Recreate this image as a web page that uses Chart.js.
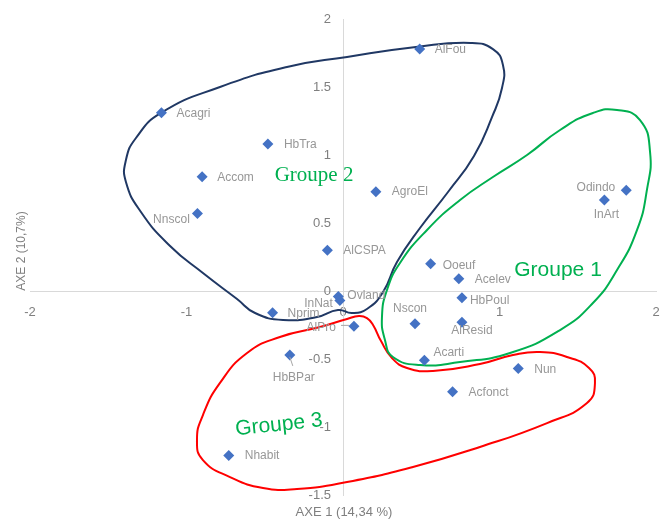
<!DOCTYPE html>
<html>
<head>
<meta charset="utf-8">
<script src="https://cdn.jsdelivr.net/npm/chart.js@4/dist/chart.umd.min.js"></script>
<style>
  html, body { margin: 0; padding: 0; background: #ffffff; }
  canvas { display: block; }
</style>
</head>
<body>
<canvas id="acp" width="667" height="520"></canvas>
<script>
// Variables projected on the first factorial plane (AXE 1 x AXE 2)
const variables = ['AlFou', 'Acagri', 'HbTra', 'Accom', 'Nnscol', 'AgroEl', 'AlCSPA', 'Odindo', 'InArt',
  'Ooeuf', 'Acelev', 'HbPoul', 'Nscon', 'AlResid', 'Acarti', 'Nun', 'Acfonct', 'Ovland', 'InNat',
  'Nprim', 'AlPro', 'HbBPar', 'Nhabit'];
const axe1 = [0.49, -1.16, -0.48, -0.90, -0.93, 0.21, -0.10, 1.81, 1.67,
  0.56, 0.74, 0.76, 0.46, 0.76, 0.52, 1.12, 0.70, -0.03, -0.02,
  -0.45, 0.07, -0.34, -0.73];
const axe2 = [1.78, 1.31, 1.08, 0.84, 0.57, 0.73, 0.30, 0.74, 0.67,
  0.20, 0.09, -0.05, -0.24, -0.23, -0.51, -0.57, -0.74, -0.04, -0.07,
  -0.16, -0.26, -0.47, -1.21];

// Tick values of both axes
const xTicks = [-2, -1, 0, 1, 2];
const yTicks = [2, 1.5, 1, 0.5, 0, -0.5, -1, -1.5];

// Hand-drawn group contours (closed loops), in plane coordinates
const groupe1 = [[0.748, 0.669], [0.958, 0.838], [1.176, 1.0], [1.387, 1.184], [1.597, 1.309], [1.751, 1.331],
  [1.898, 1.257], [1.962, 1.022], [1.942, 0.743], [1.879, 0.449], [1.751, 0.154], [1.597, -0.088],
  [1.387, -0.287], [1.067, -0.456], [0.748, -0.522], [0.492, -0.544], [0.319, -0.485], [0.268, -0.360],
  [0.249, -0.191], [0.281, 0.007], [0.364, 0.206], [0.537, 0.449]];
const groupe2 = [[-0.358, 1.647], [0.026, 1.721], [0.466, 1.794], [0.815, 1.824], [0.958, 1.779], [1.022, 1.662],
  [1.016, 1.493], [0.952, 1.279], [0.837, 0.993], [0.671, 0.728], [0.492, 0.463], [0.345, 0.213],
  [0.256, -0.007], [0.153, -0.132], [0.058, -0.162], [-0.032, -0.140], [-0.166, -0.191], [-0.383, -0.213],
  [-0.562, -0.162], [-0.677, -0.059], [-0.895, 0.132], [-1.105, 0.331], [-1.291, 0.581], [-1.387, 0.801],
  [-1.387, 0.963], [-1.323, 1.125], [-1.163, 1.309], [-0.786, 1.5]];
const groupe3 = [[0.447, -1.294], [0.875, -1.147], [1.304, -0.971], [1.559, -0.824], [1.610, -0.676],
  [1.572, -0.566], [1.431, -0.485], [1.259, -0.449], [1.086, -0.471], [0.875, -0.537], [0.575, -0.588],
  [0.409, -0.566], [0.313, -0.493], [0.243, -0.368], [0.192, -0.250], [0.153, -0.199], [0.102, -0.184],
  [0.026, -0.206], [-0.147, -0.265], [-0.403, -0.338], [-0.613, -0.456], [-0.786, -0.676], [-0.895, -0.912],
  [-0.933, -1.096], [-0.895, -1.243], [-0.722, -1.368], [-0.511, -1.449], [-0.294, -1.456], [0.026, -1.404]];

// Group captions and where they sit in the plane
const groupNames = ['Groupe 1', 'Groupe 2', 'Groupe 3'];
const groupCaptionAt = [[1.374, 0.154], [-0.185, 0.853], [-0.409, -0.985]];

// Label placement around each marker (pixel offsets from the marker centre)
const labelPlacement = {
  AlFou:   { align: 'left',   dx: 15,  dy: 1 },
  Acagri:  { align: 'left',   dx: 15,  dy: 1 },
  HbTra:   { align: 'left',   dx: 16,  dy: 1 },
  Accom:   { align: 'left',   dx: 15,  dy: 1 },
  Nnscol:  { align: 'center', dx: -26, dy: 6 },
  AgroEl:  { align: 'left',   dx: 16,  dy: 0 },
  AlCSPA:  { align: 'left',   dx: 16,  dy: 0 },
  Odindo:  { align: 'right',  dx: -11, dy: -3 },
  InArt:   { align: 'center', dx: 2,   dy: 15 },
  Ooeuf:   { align: 'left',   dx: 12,  dy: 2 },
  Acelev:  { align: 'left',   dx: 16,  dy: 1 },
  HbPoul:  { align: 'left',   dx: 8,   dy: 3 },
  Nscon:   { align: 'center', dx: -5,  dy: -15 },
  AlResid: { align: 'center', dx: 10,  dy: 8 },
  Acarti:  { align: 'left',   dx: 9,   dy: -8 },
  Nun:     { align: 'left',   dx: 16,  dy: 1 },
  Acfonct: { align: 'left',   dx: 16,  dy: 1 },
  Ovland:  { align: 'left',   dx: 9,   dy: -1 },
  InNat:   { align: 'right',  dx: -7,  dy: 3 },
  Nprim:   { align: 'left',   dx: 15,  dy: 1 },
  AlPro:   { align: 'right',  dx: -18, dy: 1, leader: [-13, -1, -5, -1] },
  HbBPar:  { align: 'center', dx: 4,   dy: 23, leader: [0, 2, 3, 11] },
  Nhabit:  { align: 'left',   dx: 16,  dy: 0 }
};

const FONT = '"Liberation Sans", Arial, sans-serif';
const GREEN = '#00B050';
const AXIS_TEXT = '#7f7f7f';

// A closed loop drawn as a smooth line: the list is padded with its
// neighbours on both ends so the join is as smooth as the rest, and the
// two padding segments are left invisible.
const contour = (pts, color) => {
  const m = pts.length;
  const ring = [pts[m - 1]].concat(pts, [pts[0], pts[1]]);
  const last = ring.length - 2;
  return {
    data: ring.map(p => ({ x: p[0], y: p[1] })),
    showLine: true,
    borderColor: color,
    borderWidth: 2,
    tension: 0.5,
    pointRadius: 0,
    pointHoverRadius: 0,
    fill: false,
    order: 2,
    segment: {
      borderColor: c => (c.p0DataIndex === 0 || c.p0DataIndex === last) ? 'rgba(0,0,0,0)' : color
    }
  };
};

// Vertical-axis tick labels, set a little to the left of the axis line
const yTickLabels = {
  id: 'yTickLabels',
  beforeDatasetsDraw(chart) {
    const ctx = chart.ctx;
    const sx = chart.scales.x, sy = chart.scales.y;
    const x0 = sx.getPixelForValue(0);
    ctx.save();
    ctx.font = '13px ' + FONT;
    ctx.fillStyle = AXIS_TEXT;
    ctx.textAlign = 'right';
    ctx.textBaseline = 'middle';
    yTicks.forEach(v => ctx.fillText(String(v), x0 - 12, sy.getPixelForValue(v)));
    ctx.restore();
  }
};

// Names next to each marker
const pointLabels = {
  id: 'pointLabels',
  afterDatasetsDraw(chart) {
    const meta = chart.getDatasetMeta(3);
    const ctx = chart.ctx;
    ctx.save();
    ctx.font = '12px ' + FONT;
    ctx.fillStyle = '#979797';
    ctx.strokeStyle = '#a6a6a6';
    ctx.lineWidth = 1;
    ctx.textBaseline = 'middle';
    meta.data.forEach((pt, i) => {
      const p = labelPlacement[variables[i]];
      ctx.textAlign = p.align;
      ctx.fillText(variables[i], pt.x + p.dx, pt.y + p.dy);
      if (p.leader) {
        const l = p.leader;
        ctx.beginPath();
        ctx.moveTo(pt.x + l[0], pt.y + l[1]);
        ctx.lineTo(pt.x + l[2], pt.y + l[3]);
        ctx.stroke();
      }
    });
    ctx.restore();
  }
};

// Axis titles and group captions
const captions = {
  id: 'captions',
  afterDraw(chart) {
    const ctx = chart.ctx;
    const sx = chart.scales.x, sy = chart.scales.y;
    const area = chart.chartArea;
    ctx.save();
    ctx.fillStyle = AXIS_TEXT;
    ctx.textAlign = 'center';
    ctx.textBaseline = 'middle';
    ctx.font = '13px ' + FONT;
    ctx.fillText('AXE 1 (14,34 %)', sx.getPixelForValue(0) + 1, chart.height - 8);
    ctx.save();
    ctx.translate(22, (area.top + area.bottom) / 2 - 6);
    ctx.rotate(-Math.PI / 2);
    ctx.font = '12px ' + FONT;
    ctx.fillText('AXE 2 (10,7%)', 0, 0);
    ctx.restore();

    ctx.fillStyle = GREEN;
    const fonts = ['21px ' + FONT, '21px "Liberation Serif", "Times New Roman", serif', '21px ' + FONT];
    const angles = [0, 0, -6 * Math.PI / 180];
    groupNames.forEach((name, i) => {
      const px = sx.getPixelForValue(groupCaptionAt[i][0]);
      const py = sy.getPixelForValue(groupCaptionAt[i][1]);
      ctx.save();
      ctx.translate(px, py);
      ctx.rotate(angles[i]);
      ctx.font = fonts[i];
      ctx.fillText(name, 0, 0);
      ctx.restore();
    });
    ctx.restore();
  }
};

// Axes cross at the origin; only their lines are shown (no grid, no tick marks)
const axisCommon = {
  type: 'linear',
  grid: { display: false, drawTicks: true, tickLength: 9 },
  border: { display: true, color: '#d9d9d9', width: 1 },
  title: { display: false }
};

new Chart(document.getElementById('acp'), {
  type: 'scatter',
  data: {
    datasets: [
      contour(groupe1, GREEN),
      contour(groupe2, '#203864'),
      contour(groupe3, '#FF0000'),
      {
        data: axe1.map((x, i) => ({ x: x, y: axe2[i] })),
        pointStyle: 'rectRot',
        pointRadius: 5.5,
        pointHoverRadius: 5.5,
        backgroundColor: '#4472C4',
        borderColor: '#4472C4',
        borderWidth: 0,
        showLine: false,
        order: 1
      }
    ]
  },
  options: {
    responsive: false,
    animation: false,
    layout: { padding: { left: 30, right: 11, top: 19, bottom: 25 } },
    plugins: { legend: { display: false }, tooltip: { enabled: false } },
    scales: {
      x: Object.assign({}, axisCommon, {
        min: -2, max: 2,
        position: { y: 0 },
        afterBuildTicks: s => { s.ticks = xTicks.map(v => ({ value: v })); },
        ticks: {
          padding: 5, color: AXIS_TEXT, font: { family: FONT, size: 13 },
          autoSkip: false, maxRotation: 0, callback: v => String(v)
        }
      }),
      y: Object.assign({}, axisCommon, {
        min: -1.5, max: 2,
        position: { x: 0 },
        afterBuildTicks: s => { s.ticks = yTicks.map(v => ({ value: v })); },
        ticks: { display: false, padding: 3 }
      })
    }
  },
  plugins: [yTickLabels, pointLabels, captions]
});
</script>
</body>
</html>
